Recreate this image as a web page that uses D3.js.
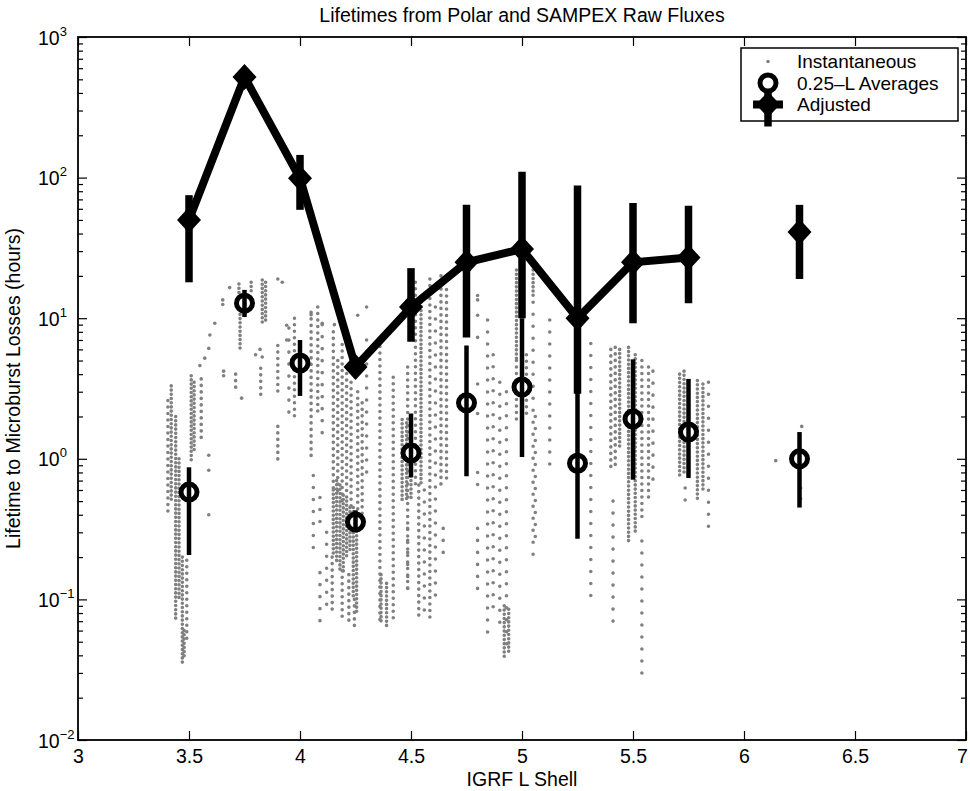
<!DOCTYPE html>
<html>
<head>
<meta charset="utf-8">
<script src="https://cdn.jsdelivr.net/npm/d3@7"></script>
<style>
  body { margin: 0; background: #fff; }
  svg { display: block; }
  text { font-family: "Liberation Sans", Arial, Helvetica, sans-serif; fill: #000; }
</style>
</head>
<body>
<svg id="chart" width="970" height="791"></svg>
<script>
// L shell bins (null value = no point, breaks the line)
const shells = [3.5, 3.75, 4, 4.25, 4.5, 4.75, 5, 5.25, 5.5, 5.75, 6, 6.25];
const adjusted   = [50, 520, 99, 4.5, 12, 25, 31, 10, 25, 27, null, 41];
const adjustedLo = [18, 470, 59, 4.0, 6.8, 7.3, 10, 2.9, 9.2, 12.8, null, 19];
const adjustedHi = [75, 570, 145, 5.0, 22.7, 64, 110, 88, 66, 63, null, 64];
const averages   = [0.58, 12.8, 4.8, 0.355, 1.1, 2.5, 3.24, 0.93, 1.92, 1.55, null, 1.0];
const averagesLo = [0.207, 10.2, 2.8, 0.31, 0.74, 0.75, 1.03, 0.27, 0.71, 0.73, null, 0.45];
const averagesHi = [0.87, 15.9, 7.0, 0.43, 2.1, 6.4, 10, 3.1, 5.1, 3.7, null, 1.55];

// instantaneous lifetimes: runs of samples along one pass [L, lowest, highest]
const denseRuns = [
  [3.42, 0.5, 3.3], [3.44, 0.07, 2.0], [3.455, 0.1, 1.0], [3.47, 0.035, 0.2], [3.478, 0.038, 0.06],
  [3.51, 0.95, 3.9], [3.523, 1.1, 3.5], [3.725, 15, 17.5], [3.73, 6.1, 11.4], [3.78, 15, 18],
  [3.83, 9.0, 18.7], [3.845, 9.5, 18], [4.15, 0.2, 0.6], [4.165, 0.18, 0.7], [4.18, 0.16, 0.65],
  [4.195, 0.15, 0.55], [4.21, 0.2, 0.5], [4.225, 0.22, 0.45], [4.24, 0.1, 0.45], [4.255, 0.08, 0.4],
  [4.365, 0.07, 0.15], [4.39, 0.065, 0.13], [4.46, 0.5, 1.9], [4.48, 0.52, 1.8], [4.50, 0.52, 1.3],
  [4.545, 0.65, 13], [4.92, 0.037, 0.09], [4.94, 0.04, 0.085], [4.975, 5, 22], [5.05, 14, 22],
  [5.44, 1.2, 6], [5.48, 0.26, 6.2], [5.51, 0.3, 5.5], [5.71, 0.75, 4.0], [5.73, 0.8, 4.2],
  [5.79, 0.52, 3.6], [5.815, 0.6, 3.4]
];
const mediumRuns = [
  [3.405, 0.4, 2.6], [3.49, 0.05, 0.19], [3.555, 1.3, 3.7], [3.71, 3.0, 4.0], [3.823, 2.6, 4.4],
  [3.90, 2.8, 6.4], [3.90, 0.98, 1.7], [3.975, 1.9, 10], [4.05, 1.0, 11], [4.08, 2.0, 12],
  [4.145, 0.08, 0.2], [4.15, 0.6, 8.0], [4.17, 0.55, 5.0], [4.19, 0.5, 6.5], [4.21, 0.5, 4.5],
  [4.23, 0.45, 3.5], [4.26, 0.4, 3.0], [4.28, 0.3, 2.5], [4.19, 0.07, 0.16], [4.22, 0.065, 0.15],
  [4.245, 0.06, 0.1], [4.36, 0.07, 7.0], [4.42, 0.07, 3.8], [4.485, 0.11, 4.5], [4.52, 0.65, 18],
  [4.535, 0.07, 0.65], [4.585, 0.07, 19], [4.635, 0.6, 20], [4.66, 0.7, 16], [4.975, 1.9, 5],
  [5.02, 2.1, 5.5], [5.40, 0.85, 6], [5.42, 0.9, 6.2], [5.54, 0.35, 5.0], [5.57, 0.5, 4.5]
];
const sparseRuns = [
  [3.95, 1.9, 8.5], [4.10, 1.3, 9], [4.06, 0.22, 0.76], [4.09, 0.3, 0.53], [4.09, 0.068, 0.155],
  [4.12, 0.09, 0.3], [4.30, 0.7, 7], [4.485, 0.1, 0.32], [4.56, 0.08, 0.6], [4.61, 0.1, 12],
  [4.645, 0.19, 0.32], [4.80, 0.1, 0.32], [4.80, 0.65, 0.8], [4.845, 0.05, 9.7], [4.87, 0.08, 5.5],
  [4.90, 0.06, 3.5], [4.93, 0.04, 3.0], [5.05, 0.2, 13], [5.06, 0.25, 2], [5.125, 0.8, 9.7],
  [5.31, 0.1, 6.6], [5.41, 0.07, 0.5], [5.54, 0.025, 0.26], [5.59, 0.6, 4.2], [5.84, 0.28, 3.5],
  [5.735, 0.5, 0.62]
];
const loosePoints = [
  [3.589, 1.06], [3.589, 0.83], [3.589, 0.40], [3.616, 9.2], [3.594, 7.6], [3.589, 6.1], [3.571, 5.2],
  [3.549, 4.6], [3.652, 12.5], [3.652, 13.5], [3.656, 3.9], [3.656, 4.2], [3.737, 2.7], [3.683, 16.5],
  [3.80, 5.5], [3.82, 6.0], [3.83, 5.3], [3.90, 19], [3.94, 7.0], [3.94, 8.9], [3.92, 18],
  [4.05, 10.6], [4.10, 9.2], [4.30, 12], [4.26, 10.5], [4.155, 9.0], [4.80, 14.5], [4.80, 13.5],
  [4.80, 10.5], [4.80, 7.3], [4.80, 3.4], [4.80, 2.1], [6.143, 0.97], [6.26, 1.7], [6.255, 0.62],
  [6.255, 0.52]
];

const xTicks = [3, 3.5, 4, 4.5, 5, 5.5, 6, 6.5, 7];
const yDecades = [-2, -1, 0, 1, 2, 3];
const legendLabels = ["Instantaneous", "0.25\u2013L Averages", "Adjusted"];

const W = 970, H = 791;
const margin = {left: 78, right: 4, top: 37, bottom: 51};
const fontSize = 19.5;
const dotColor = "#808080";

const svg = d3.select("#chart");
const x = d3.scaleLinear().domain([3, 7]).range([margin.left, W - margin.right]);
const y = d3.scaleLog().domain([0.01, 1000]).range([H - margin.bottom, margin.top]);

const minor = [];
yDecades.slice(0, -1).forEach(e => d3.range(2, 10).forEach(m => minor.push(m * Math.pow(10, e))));

// ---- instantaneous dots
function drawRuns(data, gap) {
  svg.append("g").selectAll("line").data(data).join("line")
    .attr("x1", d => x(d[0])).attr("x2", d => x(d[0]))
    .attr("y1", d => y(d[2])).attr("y2", d => y(d[1]))
    .attr("stroke", dotColor).attr("stroke-width", 3.6)
    .attr("stroke-linecap", "round").attr("stroke-dasharray", "0 " + gap);
}
drawRuns(denseRuns, 4.2);
drawRuns(mediumRuns, 6.5);
drawRuns(sparseRuns, 12);
svg.append("g").selectAll("circle").data(loosePoints).join("circle")
  .attr("cx", d => x(d[0])).attr("cy", d => y(d[1])).attr("r", 1.8).attr("fill", dotColor);

// ---- adjusted series
const adj = shells.map((L, i) => ({L, v: adjusted[i], lo: adjustedLo[i], hi: adjustedHi[i]}));
const avg = shells.map((L, i) => ({L, v: averages[i], lo: averagesLo[i], hi: averagesHi[i]}));

const line = d3.line().defined(d => d.v != null).x(d => x(d.L)).y(d => y(d.v));
svg.append("path").datum(adj).attr("d", line)
  .attr("fill", "none").attr("stroke", "#000").attr("stroke-width", 8)
  .attr("stroke-linejoin", "miter");

svg.append("g").selectAll("line").data(adj.filter(d => d.v != null)).join("line")
  .attr("x1", d => x(d.L)).attr("x2", d => x(d.L))
  .attr("y1", d => y(d.hi)).attr("y2", d => y(d.lo))
  .attr("stroke", "#000").attr("stroke-width", 7.5);

const diamond = "M0,-13L12,0L0,13L-12,0Z";
svg.append("g").selectAll("path").data(adj.filter(d => d.v != null)).join("path")
  .attr("d", diamond).attr("transform", d => `translate(${x(d.L)},${y(d.v)})`)
  .attr("fill", "#000");

// ---- averages
svg.append("g").selectAll("circle").data(avg.filter(d => d.v != null)).join("circle")
  .attr("cx", d => x(d.L)).attr("cy", d => y(d.v)).attr("r", 8)
  .attr("fill", "#fff").attr("stroke", "#000").attr("stroke-width", 5);
svg.append("g").selectAll("line").data(avg.filter(d => d.v != null)).join("line")
  .attr("x1", d => x(d.L)).attr("x2", d => x(d.L))
  .attr("y1", d => y(d.hi)).attr("y2", d => y(d.lo))
  .attr("stroke", "#000").attr("stroke-width", 4.5);

// ---- axes (inward ticks on all sides)
const fmtNone = () => "";
const bottom = svg.append("g").attr("transform", `translate(0,${y(0.01)})`)
  .call(d3.axisBottom(x).tickValues(xTicks).tickSize(-9).tickSizeOuter(0).tickPadding(9)
    .tickFormat(d3.format("")));
svg.append("g").attr("transform", `translate(0,${y(1000)})`)
  .call(d3.axisTop(x).tickValues(xTicks).tickSize(-9).tickSizeOuter(0).tickFormat(fmtNone));
const left = svg.append("g").attr("transform", `translate(${x(3)},0)`)
  .call(d3.axisLeft(y).tickValues(yDecades.map(e => Math.pow(10, e))).tickSize(-9).tickSizeOuter(0).tickFormat(fmtNone));
svg.append("g").attr("transform", `translate(${x(3)},0)`)
  .call(d3.axisLeft(y).tickValues(minor).tickSize(-5).tickSizeOuter(0).tickFormat(fmtNone));
svg.append("g").attr("transform", `translate(${x(7)},0)`)
  .call(d3.axisRight(y).tickValues(yDecades.map(e => Math.pow(10, e))).tickSize(-9).tickSizeOuter(0).tickFormat(fmtNone));
svg.append("g").attr("transform", `translate(${x(7)},0)`)
  .call(d3.axisRight(y).tickValues(minor).tickSize(-5).tickSizeOuter(0).tickFormat(fmtNone));

svg.selectAll(".domain").remove();
svg.selectAll(".tick line").attr("stroke", "#000").attr("stroke-width", 1.2);
bottom.selectAll("text").attr("font-size", fontSize).attr("font-family", null);
// last label sits against the page edge
bottom.selectAll(".tick text").filter(d => d === 7).attr("dx", -4);

// 10^n labels
left.selectAll(".tick").each(function (d) {
  const e = Math.round(Math.log10(d));
  const t = d3.select(this).append("text").attr("x", -40).attr("y", 7)
    .attr("text-anchor", "start").attr("font-size", fontSize);
  t.append("tspan").text("10");
  t.append("tspan").attr("font-size", 13).attr("dy", -9).text(e < 0 ? "\u2212" + (-e) : e);
});

svg.append("rect").attr("x", x(3)).attr("y", y(1000))
  .attr("width", x(7) - x(3)).attr("height", y(0.01) - y(1000))
  .attr("fill", "none").attr("stroke", "#000").attr("stroke-width", 1.8);

// ---- titles
svg.append("text").attr("x", (x(3) + x(7)) / 2).attr("y", 22).attr("text-anchor", "middle")
  .attr("font-size", fontSize).text("Lifetimes from Polar and SAMPEX Raw Fluxes");
svg.append("text").attr("x", (x(3) + x(7)) / 2).attr("y", 786).attr("text-anchor", "middle")
  .attr("font-size", fontSize).text("IGRF L Shell");
svg.append("text").attr("transform", `translate(20,${(y(0.01) + y(1000)) / 2}) rotate(-90)`)
  .attr("text-anchor", "middle").attr("font-size", fontSize)
  .text("Lifetime to Microburst Losses (hours)");

// ---- legend
const lg = svg.append("g").attr("transform", "translate(741,48)");
lg.append("rect").attr("width", 217).attr("height", 73)
  .attr("fill", "#fff").attr("stroke", "#000").attr("stroke-width", 1.5);
const rows = [13.5, 35, 56.5];
lg.selectAll("text.lab").data(legendLabels).join("text").attr("class", "lab")
  .attr("x", 56).attr("y", (d, i) => rows[i] + 6.5).attr("font-size", 19).text(d => d);
lg.append("circle").attr("cx", 27).attr("cy", rows[0]).attr("r", 1.8).attr("fill", dotColor);
lg.append("line").attr("x1", 27).attr("x2", 27).attr("y1", rows[1]).attr("y2", rows[2] + 22)
  .attr("stroke", "#000").attr("stroke-width", 7.5);
lg.append("circle").attr("cx", 27).attr("cy", rows[1]).attr("r", 8)
  .attr("fill", "#fff").attr("stroke", "#000").attr("stroke-width", 5);
lg.append("line").attr("x1", 12).attr("x2", 42).attr("y1", rows[2]).attr("y2", rows[2])
  .attr("stroke", "#000").attr("stroke-width", 8);
lg.append("path").attr("d", diamond).attr("transform", `translate(27,${rows[2]})`).attr("fill", "#000");
</script>
</body>
</html>
